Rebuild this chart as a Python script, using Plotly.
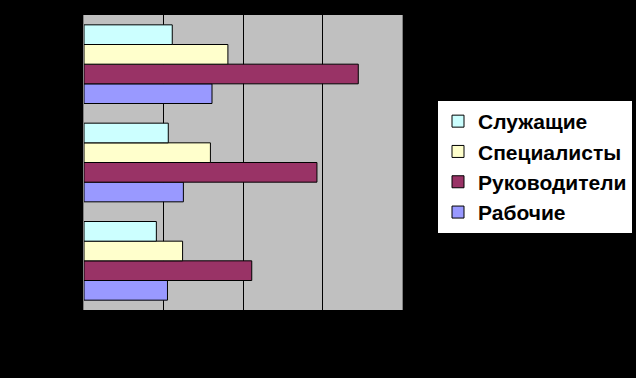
import plotly.graph_objects as go

categories = ["Группа 1", "Группа 2", "Группа 3"]  # bottom to top
series_names = ["Рабочие", "Руководители", "Специалисты", "Служащие"]
rabochie = [10.5, 12.5, 16.1]
rukovoditeli = [21.1, 29.3, 34.5]
specialisty = [12.4, 15.9, 18.1]
sluzhashchie = [9.1, 10.6, 11.1]
colors = ["#9999FF", "#993366", "#FFFFCC", "#CCFFFF"]
x_ticks = [0, 10, 20, 30, 40]

values = [rabochie, rukovoditeli, specialisty, sluzhashchie]

fig = go.Figure()
for name, vals, col in zip(series_names, values, colors):
    fig.add_trace(go.Bar(
        y=categories, x=vals, name=name, orientation="h",
        marker=dict(color=col, line=dict(color="black", width=1)),
    ))

fig.update_layout(
    width=636, height=378,
    paper_bgcolor="black", plot_bgcolor="#C0C0C0",
    margin=dict(l=84, r=234, t=15, b=68),
    barmode="group", bargap=0.2, bargroupgap=0,
    showlegend=True,
    legend=dict(
        traceorder="reversed",
        xref="container", yref="container",
        x=437 / 636, xanchor="left", y=1 - 100 / 378, yanchor="top",
        bgcolor="white", bordercolor="black", borderwidth=1,
        font=dict(family="Liberation Sans, Arial, sans-serif", size=21, color="black", weight="bold"),
        itemclick=False,
    ),
    xaxis=dict(
        range=[0, 40], tickvals=x_ticks, showgrid=True, gridcolor="black", gridwidth=1,
        zeroline=False, showline=False,
        tickfont=dict(color="black", size=12),
    ),
    yaxis=dict(
        showgrid=False, zeroline=False, showline=True, mirror=True, linecolor="#808080",
        tickfont=dict(color="black", size=12),
    ),
)

fig.write_html(
    "out.html",
    config={"displayModeBar": False},
    post_script="document.body.style.margin='0';document.body.style.background='black';",
)
